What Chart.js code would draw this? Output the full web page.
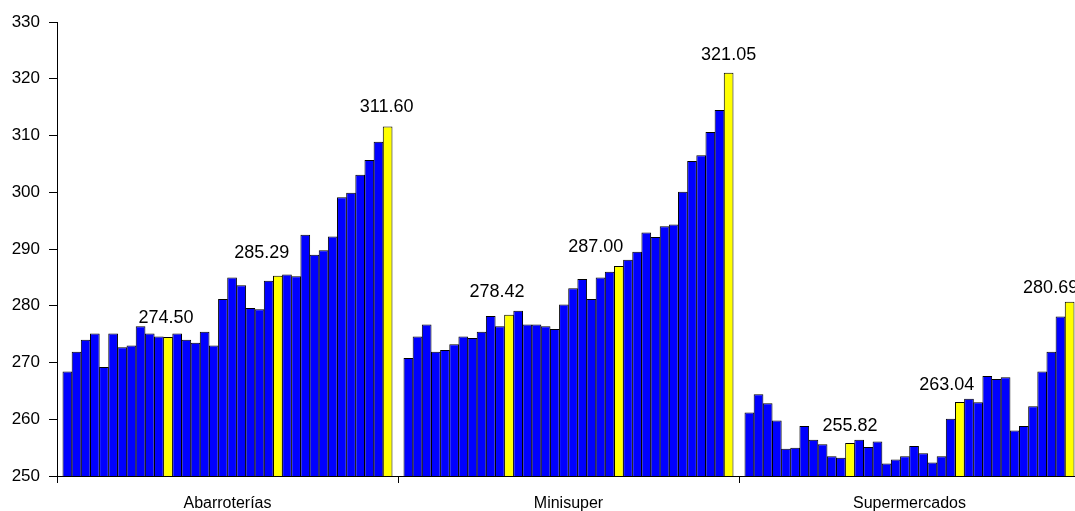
<!DOCTYPE html>
<html>
<head>
<meta charset="utf-8">
<script src="https://cdn.jsdelivr.net/npm/chart.js@4"></script>
<style>
  html, body { margin: 0; padding: 0; background: #fff; overflow: hidden; }
</style>
</head>
<body>
<canvas id="priceChart" width="1081" height="511"></canvas>
<script>
// Categories and monthly series (36 months each, December highlighted)
const categories = ['Abarroterías', 'Minisuper', 'Supermercados'];

const abarroterias = [268.4, 271.9, 274.0, 275.1, 269.2, 275.1, 272.7, 273.0, 276.4, 275.1, 274.6, 274.50,
  275.1, 274.0, 273.5, 275.4, 273.0, 281.2, 285.0, 283.6, 279.6, 279.4, 284.4, 285.29,
  285.5, 285.2, 292.5, 289.0, 289.8, 292.2, 299.1, 299.9, 303.1, 305.7, 308.9, 311.60];

const minisuper = [270.8, 274.6, 276.7, 271.9, 272.2, 273.2, 274.6, 274.3, 275.4, 278.2, 276.4, 278.42,
  279.1, 276.7, 276.7, 276.4, 275.9, 280.2, 283.1, 284.7, 281.2, 285.0, 286.0, 287.00,
  288.1, 289.5, 292.9, 292.1, 294.0, 294.3, 300.1, 305.5, 306.5, 310.6, 314.5, 321.05];

const supermercados = [261.2, 264.4, 262.8, 259.8, 254.8, 255.0, 258.8, 256.4, 255.6, 253.5, 253.2, 255.82,
  256.4, 255.1, 256.1, 252.2, 252.9, 253.5, 255.3, 254.0, 252.4, 253.5, 260.1, 263.04,
  263.6, 263.0, 267.6, 267.1, 267.4, 258.0, 258.8, 262.3, 268.4, 271.9, 278.1, 280.69];

const yMin = 250, yMax = 330, yStep = 10;

// label nudges (px) for the december value labels, [category][year]
const labelDx = [[-2, -16, -1], [-12, -23, 0], [0, -13, -19]];
const labelGap = [[14, 18, 14], [18, 14, 13], [12, 12, 9]];

const series = [abarroterias, minisuper, supermercados];
const datasets = [];
for (let i = 0; i < 36; i++) {
  const highlight = i % 12 === 11;
  datasets.push({
    label: 'm' + (i + 1),
    data: series.map(s => s[i]),
    backgroundColor: highlight ? '#FFFF00' : '#0000FF',
    borderColor: '#000000',
    borderWidth: 1,
    barPercentage: 1.06,
    categoryPercentage: 0.966
  });
}

const decemberLabels = {
  id: 'decemberLabels',
  afterDatasetsDraw(chart) {
    const ctx = chart.ctx;
    ctx.save();
    ctx.font = '18px "Liberation Sans", Arial, sans-serif';
    ctx.fillStyle = '#000';
    ctx.textAlign = 'center';
    ctx.textBaseline = 'alphabetic';
    chart.data.datasets.forEach((ds, i) => {
      if (i % 12 !== 11) return;
      const year = (i + 1) / 12 - 1;
      const meta = chart.getDatasetMeta(i);
      meta.data.forEach((bar, j) => {
        const txt = ds.data[j].toFixed(2);
        ctx.fillText(txt, bar.x + labelDx[j][year], bar.y - labelGap[j][year]);
      });
    });
    ctx.restore();
  }
};

new Chart(document.getElementById('priceChart'), {
  type: 'bar',
  data: { labels: categories, datasets: datasets },
  options: {
    responsive: false,
    animation: false,
    layout: { padding: { top: 22, right: 1, left: 0, bottom: 0 } },
    plugins: {
      legend: { display: false },
      tooltip: { enabled: false }
    },
    scales: {
      x: {
        afterFit(scale) { scale.height = 35; },
        grid: { offset: true, drawOnChartArea: false, color: '#000', tickLength: 7 },
        border: { color: '#000', width: 1 },
        ticks: {
          color: '#000',
          padding: 11,
          font: { family: '"Liberation Sans", Arial, sans-serif', size: 16 }
        }
      },
      y: {
        min: yMin,
        max: yMax,
        afterFit(scale) { scale.width = 57; },
        grid: { drawOnChartArea: false, color: '#000', tickLength: 8 },
        border: { color: '#000', width: 1 },
        ticks: {
          stepSize: yStep,
          color: '#000',
          padding: 9,
          font: { family: '"Liberation Sans", Arial, sans-serif', size: 17 }
        }
      }
    }
  },
  plugins: [decemberLabels]
});
</script>
</body>
</html>
